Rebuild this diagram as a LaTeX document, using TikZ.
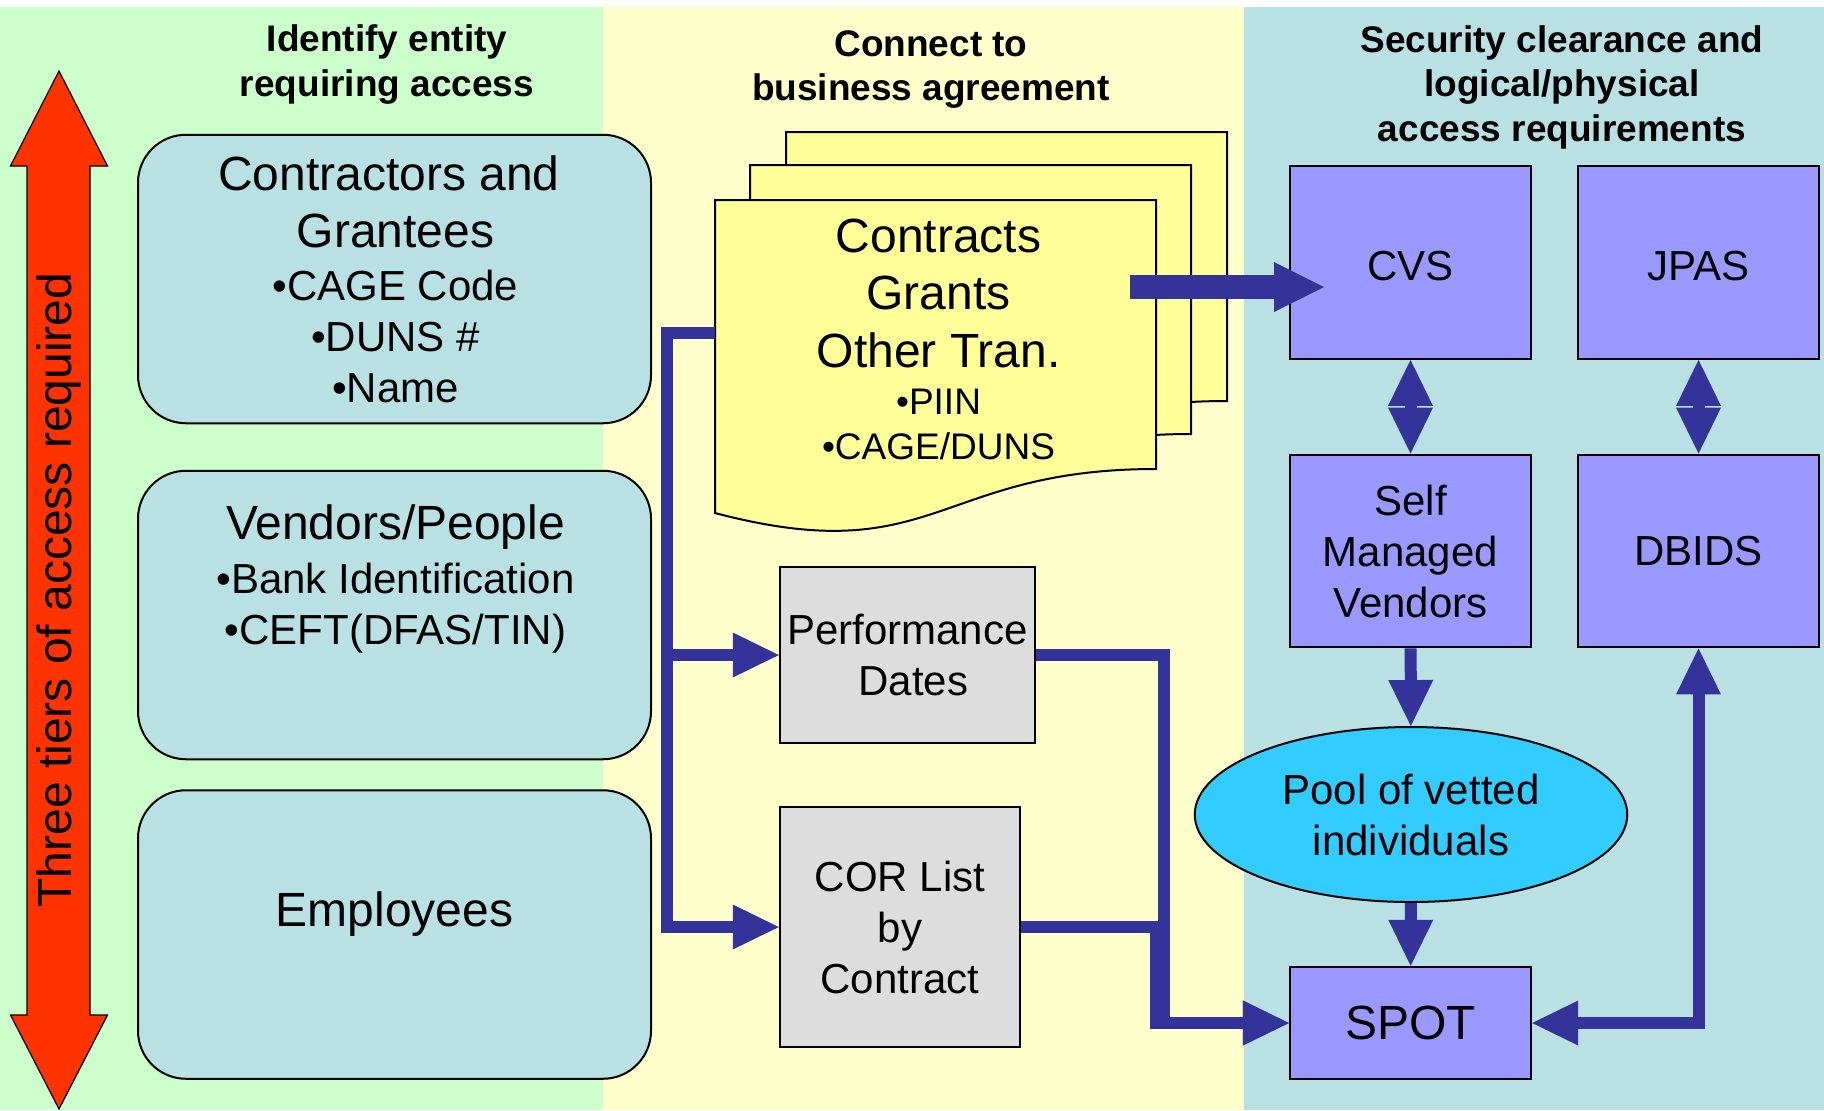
\documentclass[tikz,border=0pt]{standalone}
\usepackage{fontspec}
\setmainfont{Liberation Sans}
\usetikzlibrary{arrows.meta, shapes.geometric}
\definecolor{mintgreen}{HTML}{CCFFCC}
\definecolor{paleyellow}{HTML}{FFFFCC}
\definecolor{paleteal}{HTML}{B9E0E3}
\definecolor{docyellow}{HTML}{FFFF99}
\definecolor{lavender}{HTML}{9999FF}
\definecolor{boxgray}{HTML}{DDDDDD}
\definecolor{poolcyan}{HTML}{33CCFF}
\definecolor{tierred}{HTML}{FF3300}
\definecolor{linkblue}{HTML}{333399}

\newcommand{\largetxt}{\fontsize{24}{28.5}\selectfont}
\newcommand{\mediumtxt}{\fontsize{21}{25.5}\selectfont}
\newcommand{\smalltxt}{\fontsize{18.5}{22.5}\selectfont}

\tikzset{
	heading/.style = {align=center, inner sep=0pt, font=\bfseries\fontsize{18.5}{22.25}\selectfont},
	entity/.style = {draw, fill=paleteal, line width=1pt, rounded corners=24pt, minimum width=256.5pt, minimum height=144.25pt},
	entitytext/.style = {align=center, inner sep=0pt, font=\mediumtxt},
	datebox/.style = {draw, fill=boxgray, line width=1.2pt, inner sep=0pt, align=center, font=\mediumtxt},
	system/.style = {draw, fill=lavender, line width=1.2pt, inner sep=0pt, align=center, font=\mediumtxt, minimum width=120.5pt, minimum height=96.25pt},
	flow/.style = {linkblue, line width=6pt}
}

\begin{document}
\begin{tikzpicture}[x=0.5pt, y=-0.5pt, > = {Triangle[length=23pt, width=22.5pt, line width=0pt]}]
	% column backgrounds
	\useasboundingbox (0,0) rectangle (1824,1110);
	\fill[mintgreen] (0,7) rectangle (603,1110);
	\fill[paleyellow] (603,7) rectangle (1244,1110);
	\fill[paleteal] (1244,7) rectangle (1824,1110);

	% column headings
	\node[heading] (identify) at (387,64.5) {Identify entity\\requiring access};
	\node[heading] (connect) at (931,69.5) {Connect to\\business agreement};
	\node[heading] (security) at (1562,87) {Security clearance and\\logical/physical\\access requirements};

	% three tiers double arrow
	\draw[fill=tierred, line width=0.6pt] (59,71) -- (107.5,166) -- (90,166) -- (90,1015) -- (107.5,1015) -- (59,1109)
		-- (10.5,1015) -- (27,1015) -- (27,166) -- (10.5,166) -- cycle;
	\node[rotate=90, inner sep=0pt, font=\largetxt] (tiers) at (59.5,590) {Three tiers of access required};

	% entities requiring access
	\node[entity] (contractors) at (394.5,279) {};
	\node[entity] (vendors) at (394.5,615) {};
	\node[entity] (employees) at (394.5,934.5) {};
	\node[entitytext] (contractorslbl) at (395.5,279.5)
		{{\largetxt Contractors and\hspace*{6.67pt}}\\[3pt]{\largetxt Grantees}\\[1pt]•CAGE Code\\•DUNS \#\\•Name};
	\node[entitytext] (vendorslbl) at (395.5,578.5)
		{{\largetxt Vendors/People}\\[1.5pt]•Bank Identification\\•CEFT(DFAS/TIN)};
	\node[entitytext, font=\largetxt] (employeeslbl) at (394.5,914.5) {Employees};

	% stacked agreement sheets
	\foreach \dx/\dy in {71/-68, 35/-35, 0/0}
		\draw[fill=docyellow, line width=1pt, shift={(\dx,\dy)}] (715,200) -- (1156,200) -- (1156,469)
			.. controls (935.5,469) and (935.5,571) .. (715,513) -- cycle;
	\node[align=center, inner sep=0pt, font=\smalltxt] (contracts) at (938.5,339)
		{{\largetxt Contracts}\\[6.25pt]{\largetxt Grants}\\[6.25pt]{\largetxt Other Tran.}\\[1pt]•PIIN\\•CAGE/DUNS};
	\coordinate (docin) at (715,333);
	\coordinate (bus) at (667,333);
	\coordinate (fatfrom) at (1130,287);
	\coordinate (fatto) at (1324,287);

	% dates and officers
	\node[datebox, minimum width=127.5pt, minimum height=88pt] (perf) at (907.5,655) {Performance\\\hspace*{5.84pt}Dates};
	\node[datebox, minimum width=120pt, minimum height=120pt] (cor) at (900,927) {COR List\\by\\Contract};

	% clearance systems
	\node[system, text height=17.5pt, text depth=0pt] (cvs) at (1410.5,262.5) {CVS};
	\node[system, text height=17.5pt, text depth=0pt] (jpas) at (1698.5,262.5) {JPAS};
	\node[system] (smv) at (1410.5,551) {Self\\Managed\\Vendors};
	\node[system] (dbids) at (1698.5,551) {DBIDS};
	\node[draw, ellipse, fill=poolcyan, line width=1pt, minimum width=216.25pt, minimum height=87.5pt,
		inner sep=0pt, align=center, font=\mediumtxt] (pool) at (1411,814.5) {Pool of vetted\\individuals};
	\node[system, minimum height=56pt, font=\largetxt] (spot) at (1410.5,1023) {SPOT};

	% links
	\draw[flow, ->] (docin) -- (bus) |- (perf.west);
	\draw[flow, ->] (docin) -- (bus) |- (cor.west);
	\draw[flow, ->] (perf.east) -- ++(128,0) |- (spot.west);
	\draw[flow, ->] (cor.east) -- ++(135,0) |- (spot.west);
	\draw[flow, <->] (cvs) -- (smv);
	\draw[flow, <->] (jpas) -- (dbids);
	\draw[flow, ->] (smv) -- (pool);
	\draw[flow, ->] (pool) -- (spot);
	\draw[flow, <->] (spot.east) -| (dbids.south);
	\draw[linkblue, line width=12pt, -{Triangle[length=25pt, width=25pt, line width=0pt]}] (fatfrom) -- (fatto);
\end{tikzpicture}
\end{document}
